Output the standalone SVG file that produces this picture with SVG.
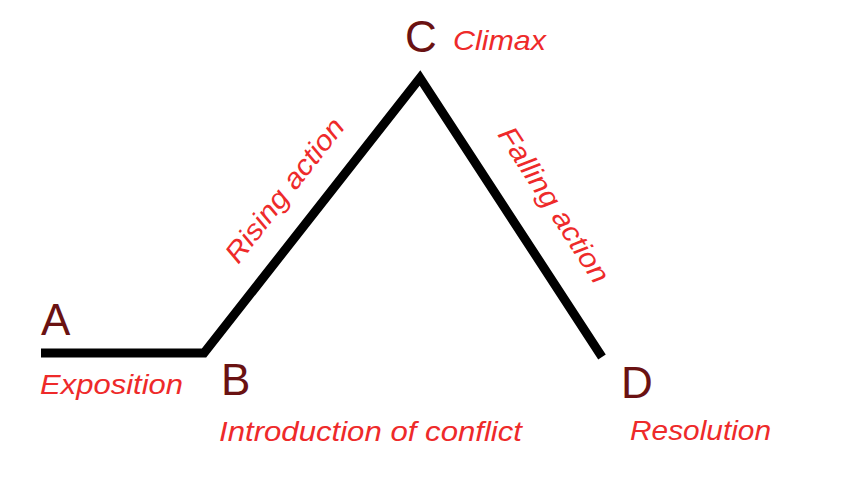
<svg xmlns="http://www.w3.org/2000/svg" width="868" height="478" viewBox="0 0 868 478">
<style>
.pt{font-family:"Liberation Sans",Arial,sans-serif;font-size:44px;fill:#6a1212}
.lb{font-family:"Liberation Sans",Arial,sans-serif;font-size:28px;font-style:italic;fill:#ee2a2a}
</style>
<rect width="868" height="478" fill="#ffffff"/>
<g id="connectors">
<polyline points="41,353 204,353 420,78 602,357" fill="none" stroke="#000" stroke-width="9" stroke-linejoin="miter"/>
</g>
<g id="A"><text class="pt" x="41" y="335">A</text><text class="lb" x="40" y="394" textLength="143" lengthAdjust="spacingAndGlyphs">Exposition</text></g>
<g id="B"><text class="pt" x="221" y="395">B</text><text class="lb" x="219" y="441" textLength="303" lengthAdjust="spacingAndGlyphs">Introduction of conflict</text></g>
<g id="C"><text class="pt" x="405" y="52">C</text><text class="lb" x="453" y="50" textLength="93" lengthAdjust="spacingAndGlyphs">Climax</text></g>
<g id="D"><text class="pt" x="621" y="398">D</text><text class="lb" x="630" y="440" textLength="141" lengthAdjust="spacingAndGlyphs">Resolution</text></g>
<g id="rising"><text class="lb" text-anchor="middle" transform="translate(292,196) rotate(-52)" textLength="175" lengthAdjust="spacingAndGlyphs">Rising action</text></g>
<g id="falling"><text class="lb" text-anchor="middle" transform="translate(546,210) rotate(57)" textLength="180" lengthAdjust="spacingAndGlyphs">Falling action</text></g>
</svg>
